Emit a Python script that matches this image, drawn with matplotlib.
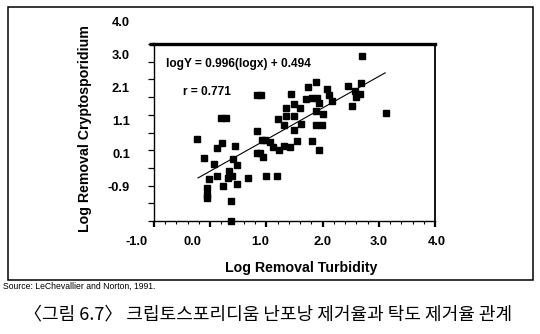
import matplotlib
matplotlib.use("Agg")
import matplotlib.pyplot as plt
import numpy as np
from matplotlib.patches import Rectangle
from matplotlib.ticker import MultipleLocator
from matplotlib.transforms import ScaledTranslation

# Log removal of turbidity (x) and of Cryptosporidium oocysts (y)
turbidity = [2.73, 1.96, 2.71, 2.50, 1.84, 2.15, 0.99, 1.06, 1.55, 2.61,
             2.69, 2.63, 2.18, 1.81, 1.90, 1.98, 2.01, 2.24, 1.61, 1.70,
             1.48, 2.57, 1.97, 2.09, 3.12, 1.48, 1.61, 0.40, 0.48, 1.34,
             1.72, 1.44, 1.97, 2.06, 1.61, 0.99, 0.00, 1.07, 1.12, 1.21,
             1.90, 1.65, 0.42, 0.63, 1.25, 1.44, 1.54, 1.36, 0.33, 2.01,
             0.99, 1.04, 1.10, 0.12, 0.60, 0.28, 0.66, 0.53, 0.58, 0.33,
             0.51, 0.85, 1.14, 1.32, 0.20, 0.43, 0.66, 0.16, 0.16, 0.16,
             0.57, 0.56]
crypto = [4.09, 3.33, 3.30, 3.22, 3.17, 3.12, 2.94, 2.94, 2.97, 3.07,
          2.97, 2.89, 2.94, 2.82, 2.85, 2.85, 2.72, 2.77, 2.67, 2.56,
          2.56, 2.61, 2.48, 2.39, 2.42, 2.32, 2.32, 2.26, 2.26, 2.23,
          2.09, 2.06, 2.06, 2.06, 1.93, 1.90, 1.65, 1.63, 1.63, 1.56,
          1.60, 1.60, 1.55, 1.45, 1.43, 1.46, 1.42, 1.32, 1.38, 1.34,
          1.24, 1.24, 1.14, 1.09, 1.08, 0.92, 0.89, 0.73, 0.58, 0.56,
          0.50, 0.50, 0.58, 0.58, 0.47, 0.29, 0.34, 0.21, 0.02, -0.07,
          -0.15, -0.75]

# Regression reported with the data
slope, intercept, r_value = 0.996, 0.494, 0.771
fit_x = [0.02, 3.11]

x_tick_values = [-1, 0, 1, 2, 3, 4]
x_tick_labels = ["-1.0", "0.0", "1.0", "2.0", "3.0", "4.0"]
y_tick_labels = ["4.0", "3.0", "2.1", "1.1", "0.1", "-0.9"]

NARROW = ["Liberation Sans Narrow", "Liberation Sans", "DejaVu Sans"]
KOREAN = ["Noto Sans CJK KR", "DejaVu Sans"]

W, H = 540, 334
fig = plt.figure(figsize=(W / 100, H / 100), dpi=100)


def box(left, top, right, bottom):
    return [left / W, 1 - bottom / H, (right - left) / W, (bottom - top) / H]


def px(dx, dy):
    return ScaledTranslation(dx / 100, dy / 100, fig.dpi_scale_trans)


# outer border of the figure panel
fig.patches.append(Rectangle((8 / W, 1 - 280 / H), 525 / W, 273 / H,
                             transform=fig.transFigure, fill=False,
                             edgecolor="black", linewidth=1.1))

rect = box(154, 44, 435, 221)

# axis frame with its tick marks
frame = fig.add_axes(rect)
frame.set_xlim(-1, 4)
frame.set_ylim(-1, 4)
frame.xaxis.set_major_locator(MultipleLocator(1))
frame.xaxis.set_minor_locator(MultipleLocator(0.2))
frame.yaxis.set_major_locator(MultipleLocator(0.5))
frame.tick_params(axis="x", which="major", direction="out", length=4,
                  width=1.6, labelbottom=False)
frame.tick_params(axis="x", which="minor", direction="out", length=2.2,
                  width=0.8)
frame.tick_params(axis="y", which="major", direction="out", length=4.5,
                  width=0.9, labelleft=False)
frame.spines["top"].set_linewidth(2.4)
frame.spines["right"].set_linewidth(1.3)
frame.spines["left"].set_linewidth(1.0)
frame.spines["bottom"].set_linewidth(1.0)
# the heavy top rule runs a little past the left spine
frame.add_line(plt.Line2D([-5 / 281, 0], [1, 1], transform=frame.transAxes,
                          color="black", linewidth=2.4, clip_on=False,
                          solid_capstyle="butt"))

# x tick labels
x_shift = [-17, -18, -6, 0, 0, 2]
for v, lab, dx in zip(x_tick_values, x_tick_labels, x_shift):
    frame.text(v, 0, lab, transform=frame.get_xaxis_transform() + px(dx, -21),
               ha="center", va="center", fontsize=9.3, fontweight="bold",
               family=NARROW)

# y tick labels
for i, lab in enumerate(y_tick_labels):
    ypix = 23 + 33 * i
    frame.text(0, (221 - ypix) / 177, lab,
               transform=frame.transAxes + px(-24, 0),
               ha="right", va="center", fontsize=9.3, fontweight="bold",
               family=NARROW)

# data layer
ax = fig.add_axes(rect, facecolor="none")
ax.set_xlim(-0.707, 3.933)
ax.set_ylim(-0.747, 4.436)
ax.axis("off")
ax.plot(turbidity, crypto, linestyle="none", marker="s", markersize=4.4,
        color="black", clip_on=False)
fx = np.array(fit_x)
ax.plot(fx, slope * fx + intercept, color="black", linewidth=0.8)

frame.text(0.043, 0.887, f"logY = {slope:.3f}(logx) + {intercept:.3f}",
           transform=frame.transAxes, ha="left", va="center", fontsize=8.6,
           fontweight="bold", family=NARROW)
frame.text(0.103, 0.729, f"r = {r_value:.3f}", transform=frame.transAxes,
           ha="left", va="center", fontsize=8.6, fontweight="bold",
           family=NARROW)

fig.text(301 / W, 1 - 268 / H, "Log Removal Turbidity", ha="center",
         va="center", fontsize=10.2, fontweight="bold", family=NARROW)
fig.text(85 / W, 1 - 129 / H, "Log Removal Cryptosporidium", ha="center",
         va="center", rotation=90, fontsize=10.2, fontweight="bold",
         family=NARROW)

fig.text(3 / W, 1 - 286 / H, "Source: LeChevallier and Norton, 1991.",
         ha="left", va="center", fontsize=6.2, family=["Liberation Sans"])

fig.text(268 / W, 1 - 314 / H,
         "〈그림 6.7〉 크립토스포리디움 난포낭 제거율과 탁도 제거율 관계",
         ha="center", va="center", fontsize=13, family=KOREAN)

fig.savefig("out.png", dpi=100)
